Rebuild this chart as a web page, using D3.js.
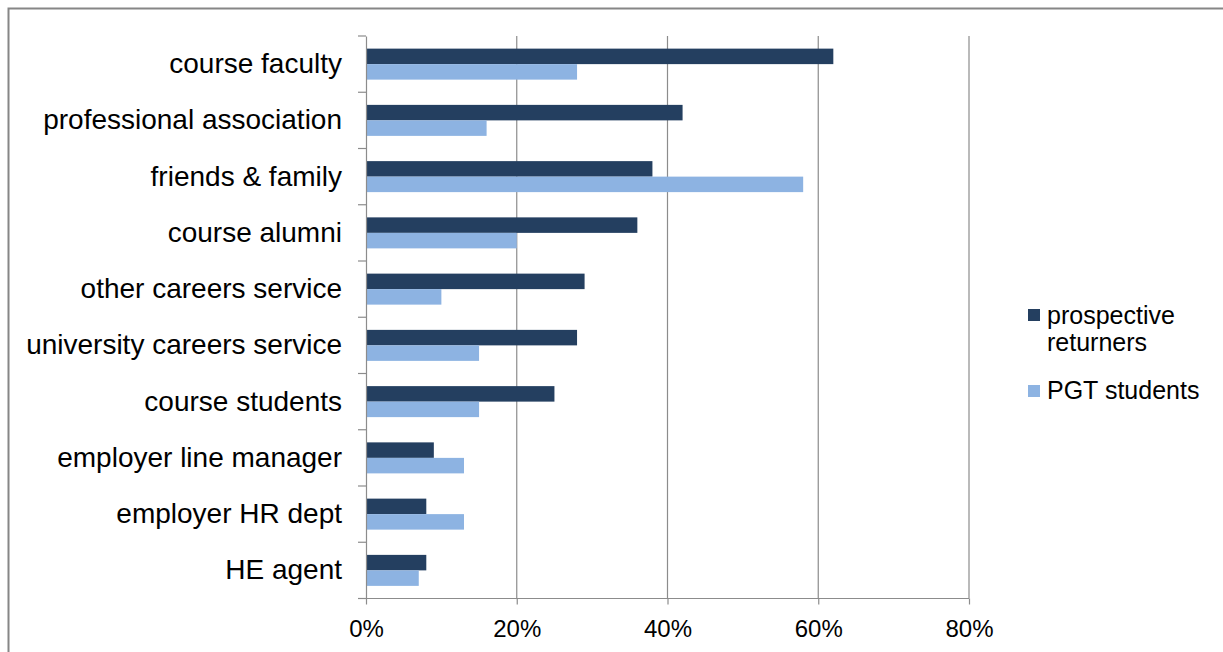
<!DOCTYPE html>
<html><head><meta charset="utf-8">
<script src="https://cdn.jsdelivr.net/npm/d3@7"></script>
<style>body{margin:0;background:#fff;}svg{display:block;font-family:"Liberation Sans",Arial,sans-serif;}</style>
</head><body>
<svg id="c" width="1223" height="652"></svg>
<script>
const categories = ["course faculty","professional association","friends & family","course alumni","other careers service","university careers service","course students","employer line manager","employer HR dept","HE agent"];
const seriesNames = ["prospective returners","PGT students"];
const returners = [62,42,38,36,29,28,25,9,8,8];
const pgt = [28,16,58,20,10,15,15,13,13,7];
const tickValues = [0,20,40,60,80];
const colors = ["#243F60","#8DB3E2"];

(function(){
const svg = d3.select("#c");
// outer frame
svg.append("rect").attr("x",8.5).attr("y",8.5).attr("width",1240).attr("height",660)
  .attr("fill","none").attr("stroke","#868686").attr("stroke-width",2);

const pL=366, pR=969, pT=36, pB=598.5;
const x = d3.scaleLinear().domain([0,80]).range([pL,pR]);
const y = d3.scaleBand().domain(categories).range([pT,pB]);
const inner = d3.scaleBand().domain(seriesNames).range([0,31]).paddingInner(0);
const off = (y.bandwidth()-31)/2;

// gridlines
svg.append("g").selectAll("line").data(tickValues.slice(1)).join("line")
  .attr("x1",d=>x(d)).attr("x2",d=>x(d)).attr("y1",pT).attr("y2",pB)
  .attr("stroke","#8c8c8c").attr("stroke-width",1.2);

// bars
const data = categories.map((c,i)=>({c, vals:[returners[i],pgt[i]]}));
const g = svg.append("g");
data.forEach(d=>{
  d.vals.forEach((v,j)=>{
    g.append("rect").attr("x",x(0)).attr("y",y(d.c)+off+inner(seriesNames[j]))
     .attr("width",x(v)-x(0)).attr("height",inner.bandwidth()).attr("fill",colors[j]);
  });
});

// y axis
const yAxis = d3.axisLeft(y).tickSize(0).tickPadding(24);
const ya = svg.append("g").attr("transform",`translate(${pL},0)`).call(yAxis);
ya.select(".domain").attr("stroke","#8c8c8c").attr("stroke-width",1.2);
ya.selectAll("text").attr("font-size",28).attr("fill","#000").attr("font-family","Liberation Sans, Arial, sans-serif");
// category boundary ticks
const bounds = categories.map(c=>y(c)).concat([pB]);
svg.append("g").selectAll("line").data(bounds).join("line")
  .attr("x1",pL-8).attr("x2",pL).attr("y1",d=>d).attr("y2",d=>d)
  .attr("stroke","#8c8c8c").attr("stroke-width",1.2);

// x axis
const xAxis = d3.axisBottom(x).tickValues(tickValues).tickFormat(d=>d+"%").tickSize(6).tickPadding(15);
const xa = svg.append("g").attr("transform",`translate(0,${pB})`).call(xAxis);
xa.select(".domain").attr("stroke","#8c8c8c").attr("stroke-width",1.2).attr("d",`M${pL-8},0H${pR}`);
xa.selectAll(".tick line").attr("stroke","#8c8c8c").attr("stroke-width",1.2);
xa.selectAll("text").attr("font-size",24).attr("fill","#000").attr("font-family","Liberation Sans, Arial, sans-serif");

// legend
const lg = svg.append("g").attr("font-size",25);
lg.append("rect").attr("x",1028).attr("y",309).attr("width",12).attr("height",12).attr("fill",colors[0]);
lg.append("text").attr("x",1047).attr("y",324).text("prospective");
lg.append("text").attr("x",1047).attr("y",351).text("returners");
lg.append("rect").attr("x",1028).attr("y",385).attr("width",12).attr("height",12).attr("fill",colors[1]);
lg.append("text").attr("x",1047).attr("y",399).text("PGT students");
})();
</script>
</body></html>
